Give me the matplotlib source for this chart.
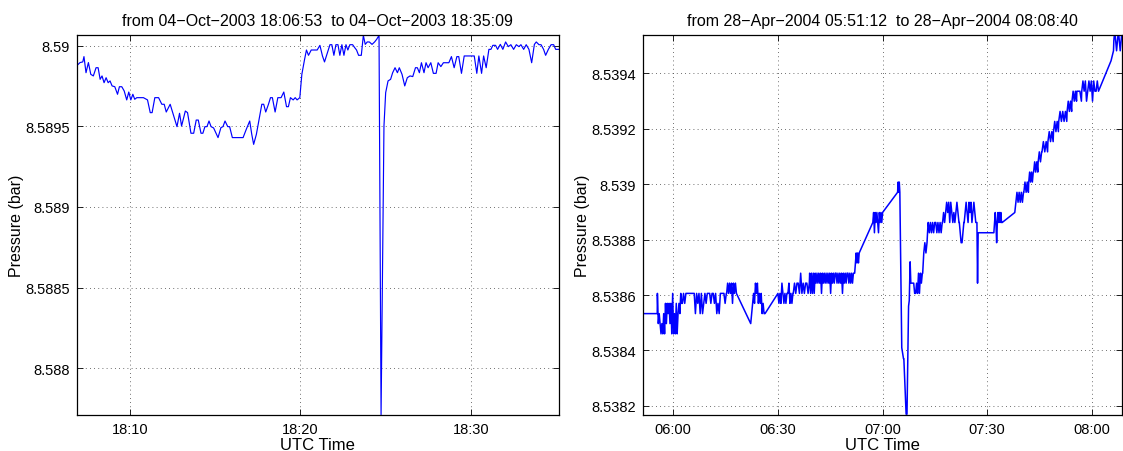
import numpy as np
import matplotlib
matplotlib.use('Agg')
import matplotlib.pyplot as plt
import matplotlib.dates as mdates
from matplotlib.ticker import MultipleLocator, FuncFormatter

plt.rcParams['font.family'] = ['Liberation Sans', 'DejaVu Sans']

# ---- left panel: 04-Oct-2003, minutes after 18:00 ----
left_min = [6.89, 7.06, 7.22, 7.29, 7.41, 7.55, 7.69, 7.84, 8.00, 8.12,
            8.24, 8.35, 8.47, 8.59, 8.71, 8.82, 8.94, 9.10, 9.26, 9.37,
            9.51, 9.65, 9.80, 9.92, 10.04, 10.16, 10.27, 10.39, 10.78, 11.02,
            11.18, 11.29, 11.45, 11.67, 11.86, 12.00, 12.12, 12.35, 12.55, 12.75,
            12.90, 13.02, 13.24, 13.37, 13.57, 13.73, 13.88, 14.00, 14.16, 14.27,
            14.39, 14.51, 14.63, 14.75, 14.90, 15.16, 15.33, 15.45, 15.57, 15.73,
            15.84, 16.00, 16.63, 16.82, 17.02, 17.14, 17.25, 17.41, 17.57, 17.73,
            17.84, 17.96, 18.12, 18.24, 18.35, 18.51, 18.67, 18.86, 19.02, 19.18,
            19.29, 19.41, 19.57, 19.69, 19.80, 19.96, 20.08, 20.24, 20.35, 20.47,
            20.63, 20.98, 21.14, 21.29, 21.41, 21.57, 21.73, 21.84, 21.96, 22.08,
            22.20, 22.31, 22.43, 22.55, 22.67, 22.78, 22.90, 23.06, 23.18, 23.29,
            23.41, 23.57, 23.69, 23.80, 23.92, 24.04, 24.20, 24.35, 24.47, 24.61,
            24.73, 24.90, 25.00, 25.14, 25.29, 25.41, 25.55, 25.69, 25.80, 25.96,
            26.12, 26.27, 26.43, 26.59, 26.75, 26.86, 26.98, 27.10, 27.25, 27.37,
            27.49, 27.65, 27.80, 27.96, 28.08, 28.24, 28.39, 28.71, 28.86, 29.02,
            29.18, 29.29, 29.45, 29.61, 30.20, 30.35, 30.47, 30.63, 30.75, 30.90,
            31.06, 31.18, 31.29, 31.45, 31.57, 31.73, 31.88, 32.04, 32.20, 32.35,
            32.51, 32.67, 32.82, 32.94, 33.10, 33.25, 33.41, 33.57, 33.73, 33.84,
            34.00, 34.12, 34.27, 34.39, 34.55, 34.71, 34.86, 34.98, 35.15]
left_bar = [8.589880, 8.589897, 8.589901, 8.589934, 8.589834, 8.589897, 8.589824, 8.589814, 8.589865, 8.589865,
            8.589793, 8.589814, 8.589772, 8.589803, 8.589772, 8.589783, 8.589752, 8.589747, 8.589700, 8.589747,
            8.589747, 8.589721, 8.589665, 8.589714, 8.589665, 8.589700, 8.589669, 8.589679, 8.589679, 8.589665,
            8.589586, 8.589586, 8.589679, 8.589679, 8.589638, 8.589638, 8.589590, 8.589638, 8.589569, 8.589499,
            8.589582, 8.589503, 8.589596, 8.589586, 8.589458, 8.589458, 8.589540, 8.589540, 8.589458, 8.589458,
            8.589499, 8.589499, 8.589534, 8.589499, 8.589491, 8.589431, 8.589493, 8.589499, 8.589534, 8.589499,
            8.589499, 8.589431, 8.589431, 8.589483, 8.589534, 8.589451, 8.589389, 8.589451, 8.589545, 8.589638,
            8.589638, 8.589590, 8.589638, 8.589679, 8.589679, 8.589590, 8.589679, 8.589679, 8.589714, 8.589623,
            8.589623, 8.589679, 8.589665, 8.589679, 8.589665, 8.589679, 8.589824, 8.589917, 8.589975, 8.589942,
            8.589975, 8.589975, 8.590004, 8.589938, 8.589901, 8.589954, 8.590008, 8.590008, 8.589942, 8.590008,
            8.590008, 8.589942, 8.590008, 8.589942, 8.590008, 8.589975, 8.590008, 8.590008, 8.589990, 8.589975,
            8.589942, 8.589942, 8.590066, 8.590010, 8.590025, 8.590025, 8.590010, 8.590025, 8.590041, 8.590066,
            8.587710, 8.589503, 8.589710, 8.589783, 8.589793, 8.589834, 8.589865, 8.589834, 8.589865, 8.589824,
            8.589752, 8.589803, 8.589814, 8.589810, 8.589865, 8.589865, 8.589834, 8.589896, 8.589834, 8.589896,
            8.589865, 8.589896, 8.589830, 8.589830, 8.589896, 8.589872, 8.589896, 8.589896, 8.589934, 8.589865,
            8.589934, 8.589934, 8.589830, 8.589938, 8.589938, 8.589830, 8.589938, 8.589830, 8.589938, 8.589865,
            8.589979, 8.589979, 8.590004, 8.590004, 8.589979, 8.590010, 8.589979, 8.590025, 8.589996, 8.590008,
            8.589979, 8.590008, 8.589996, 8.590008, 8.589979, 8.590008, 8.589979, 8.589896, 8.590010, 8.590025,
            8.590008, 8.590008, 8.589979, 8.589942, 8.589979, 8.590008, 8.590008, 8.589979, 8.589979]

# ---- right panel: 28-Apr-2004, minutes after 05:00 ----
# sensor levels (bar); blocks of readings use one base-36 character per level
right_levels = [8.538460, 8.538497, 8.538533, 8.538570, 8.538606, 8.538643, 8.538679, 8.538716,
                8.538752, 8.538789, 8.538825, 8.538862, 8.538898, 8.538935, 8.538971, 8.539008,
                8.539044, 8.539081, 8.539117, 8.539154, 8.539190, 8.539227, 8.539263, 8.539300,
                8.539336, 8.539373, 8.539409, 8.539446, 8.539482, 8.539519, 8.539555]
right_blocks = [
    (51.20, 55.40, "22"),
    (55.45, 62.40, "4121010203132313040203023243"),
    (62.60, 75.20, "34344444444243424234344434434232444434"),
    (75.30, 78.10, "45454535454"),
    (82.20, 86.30, "1234354534342322"),
    (90.00, 94.30, "4343543434453434"),
    (94.40, 99.00, "45455464545545"),
    (99.10, 111.90, "64646465656564656565656465656656565646565665656566"),
    (112.00, 113.30, "6787878"),
    (117.20, 120.00, "bcacbcbacbcbc"),
    (124.30, 124.95, "efefe"),
    (128.10, 131.40, "5555445464656"),
    (131.50, 133.05, "68989b"),
    (133.10, 137.10, "babababbababab"),
    (137.20, 141.90, "bcbcdcdbdcbcbcdcb"),
    (142.00, 143.30, "ba99ab"),
    (143.40, 147.00, "bcdcbdcdbcdcbb"),
    (147.05, 147.40, "b5a"),
    (147.50, 151.80, "aa"),
    (151.90, 154.30, "abcb9bcbcbcbb"),
    (157.90, 160.40, "cdededede"),
    (160.50, 161.80, "efefe"),
    (161.90, 163.20, "fgfgfg"),
    (163.30, 164.50, "ghghg"),
    (164.60, 165.60, "hihi"),
    (165.70, 167.30, "ijiji"),
    (167.40, 168.90, "jkjkj"),
    (169.00, 170.40, "klklk"),
    (170.50, 172.80, "lmlmlml"),
    (172.90, 174.20, "mnmnm"),
    (174.30, 175.60, "nonon"),
    (175.70, 177.00, "ooon"),
    (177.10, 181.90, "opopnopopnpoopo"),
    (185.50, 186.20, "rs"),
    (186.30, 188.65, "tutstutstu"),
]
# the sharp drop just after 07:00
spike_min = [125.50, 126.00, 126.10, 126.75, 127.00, 127.45, 127.65, 127.90]
spike_bar = [8.538410, 8.538370, 8.538370, 8.538170, 8.538170, 8.538560, 8.538580, 8.538720]

titles = ["from 04\u2212Oct\u22122003 18:06:53  to 04\u2212Oct\u22122003 18:35:09",
          "from 28\u2212Apr\u22122004 05:51:12  to 28\u2212Apr\u22122004 08:08:40"]

r_min, r_bar = [], []
for t0, t1, codes in right_blocks:
    r_min.extend(np.linspace(t0, t1, len(codes)))
    r_bar.extend(right_levels[int(c, 36)] for c in codes)
r_min = np.array(r_min + spike_min)
r_bar = np.array(r_bar + spike_bar)
order = np.argsort(r_min)
r_min, r_bar = r_min[order], r_bar[order]


def to_time(base, minutes):
    return np.datetime64(base) + (np.asarray(minutes) * 60000).astype('timedelta64[ms]')


fig = plt.figure(figsize=(11.23, 4.52), dpi=100)
ax1 = fig.add_axes([0.0686, 0.0803, 0.4288, 0.8407])
ax2 = fig.add_axes([0.5722, 0.0803, 0.4270, 0.8407])

ax1.plot(to_time('2003-10-04T18:00', left_min), left_bar, color='#0000ff', lw=0.85)
ax1.set_xlim(np.datetime64('2003-10-04T18:06:53'), np.datetime64('2003-10-04T18:35:09'))
ax1.set_ylim(8.58771, 8.59007)
ax1.xaxis.set_major_locator(mdates.MinuteLocator(byminute=[10, 20, 30]))
ax1.yaxis.set_major_locator(MultipleLocator(0.0005))

ax2.plot(to_time('2004-04-28T05:00', r_min), r_bar, color='#0000ff', lw=1.1)
ax2.set_xlim(np.datetime64('2004-04-28T05:51:12'), np.datetime64('2004-04-28T08:08:40'))
ax2.set_ylim(8.538168, 8.53954)
ax2.xaxis.set_major_locator(mdates.MinuteLocator(byminute=[0, 30]))
ax2.yaxis.set_major_locator(MultipleLocator(0.0002))

for ax, title in zip([ax1, ax2], titles):
    ax.set_title(title, fontsize=11.5, pad=7)
    ax.set_xlabel('UTC Time', fontsize=12, labelpad=1)
    ax.set_ylabel('Pressure (bar)', fontsize=11.5, labelpad=1)
    ax.xaxis.set_major_formatter(mdates.DateFormatter('%H:%M'))
    ax.yaxis.set_major_formatter(FuncFormatter(lambda v, p: '%g' % v))
    ax.tick_params(direction='in', top=True, right=True, length=4, width=0.6,
                   labelsize=10.5, pad=5)
    ax.grid(True, linestyle=(0, (1, 4)), color='0.25', linewidth=0.6)
    for s in ax.spines.values():
        s.set_linewidth(0.9)

fig.savefig('out.png', dpi=100)
